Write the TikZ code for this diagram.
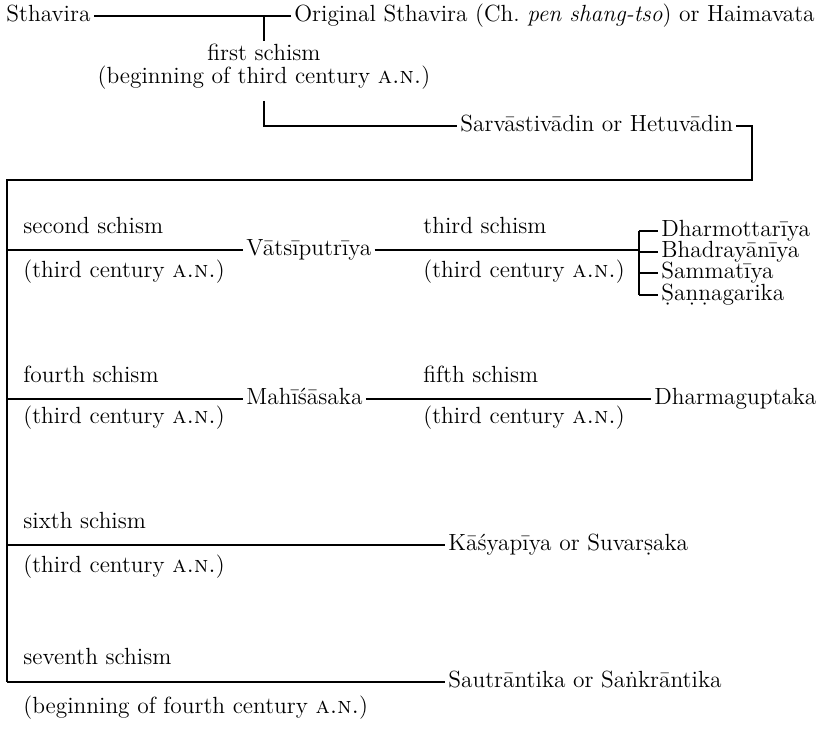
\documentclass[tikz,border=0pt]{standalone}
\usepackage{fontspec}
\usetikzlibrary{positioning}

\begin{document}
\begin{tikzpicture}[
    x=0.5pt, y=-0.5pt,
    every node/.style={font=\fontsize{11.7}{13}\selectfont},
    lbl/.style={anchor=west, inner xsep=1.5pt, inner ysep=0pt, text height=1.6ex, text depth=0.25ex},
    mid/.style={lbl, anchor=center},
    line/.style={line width=0.7pt},
  ]
  \useasboundingbox (0,0) rectangle (831,732);
  % --- Sthavira and the first schism
  \node[lbl] (sthavira) at (3,16) {Sthavira};
  \node[lbl] (orig) at (291,16) {Original Sthavira (Ch.\ \textit{pen shang-tso}) or Haimavata};
  \node[mid] (first) at (264,55) {first schism};
  \node[mid] (firstdate) at (264,78) {(beginning of third century \textsc{a.n.})};
  \node[lbl] (sarva) at (457,126) {Sarvāstivādin or Hetuvādin};
  \coordinate (fork1) at (264,16);
  \coordinate (fork1b) at (264,41);
  \coordinate (fork2a) at (264,101);
  \coordinate (fork2) at (264,126);
  \coordinate (hook) at (752,126);
  \coordinate (hookdown) at (752,180);
  \coordinate (trunk) at (7,180);
  \coordinate (trunkend) at (7,682);
  \draw[line] (sthavira) -- (orig);
  \draw[line] (fork1) -- (fork1b);
  \draw[line] (fork2a) -- (fork2) -- (sarva);
  \draw[line] (sarva) -- (hook) -- (hookdown) -- (trunk) -- (trunkend);
  % --- second and third schisms
  \coordinate (t2) at (7,250);
  \node[lbl] (s2) at (20,228) {second schism};
  \node[lbl] (d2) at (20,272) {(third century \textsc{a.n.})};
  \node[lbl] (vats) at (243,250) {Vātsīputrīya};
  \node[lbl] (s3) at (420,228) {third schism};
  \node[lbl] (d3) at (420,272) {(third century \textsc{a.n.})};
  \coordinate (brk) at (639,250);
  \node[lbl] (dharmo) at (658,231) {Dharmottarīya};
  \node[lbl] (bhadra) at (658,252) {Bhadrayānīya};
  \node[lbl] (sammat) at (658,273) {Sammatīya};
  \node[lbl] (sanna) at (658,295) {Ṣaṇṇagarika};
  \draw[line] (t2) -- (vats);
  \draw[line] (vats) -- (brk);
  \draw[line] (dharmo.west -| brk) -- (sanna.west -| brk);
  \foreach \n in {dharmo,bhadra,sammat,sanna}
    \draw[line] (\n.west -| brk) -- (\n);
  % --- fourth and fifth schisms
  \coordinate (t4) at (7,399);
  \node[lbl] (s4) at (20,377) {fourth schism};
  \node[lbl] (d4) at (20,418) {(third century \textsc{a.n.})};
  \node[lbl] (mahi) at (243,399) {Mahīśāsaka};
  \node[lbl] (s5) at (420,377) {fifth schism};
  \node[lbl] (d5) at (420,418) {(third century \textsc{a.n.})};
  \node[lbl] (dharmag) at (651,399) {Dharmaguptaka};
  \draw[line] (t4) -- (mahi);
  \draw[line] (mahi) -- (dharmag);
  % --- sixth schism
  \coordinate (t6) at (7,545);
  \node[lbl] (s6) at (20,523) {sixth schism};
  \node[lbl] (d6) at (20,567) {(third century \textsc{a.n.})};
  \node[lbl] (kas) at (445,545) {Kāśyapīya or Suvarṣaka};
  \draw[line] (t6) -- (kas);
  % --- seventh schism
  \node[lbl] (s7) at (20,659) {seventh schism};
  \node[lbl] (d7) at (20,708) {(beginning of fourth century \textsc{a.n.})};
  \node[lbl] (saut) at (445,682) {Sautrāntika or Saṅkrāntika};
  \draw[line] (trunkend) -- (saut);
\end{tikzpicture}
\end{document}
